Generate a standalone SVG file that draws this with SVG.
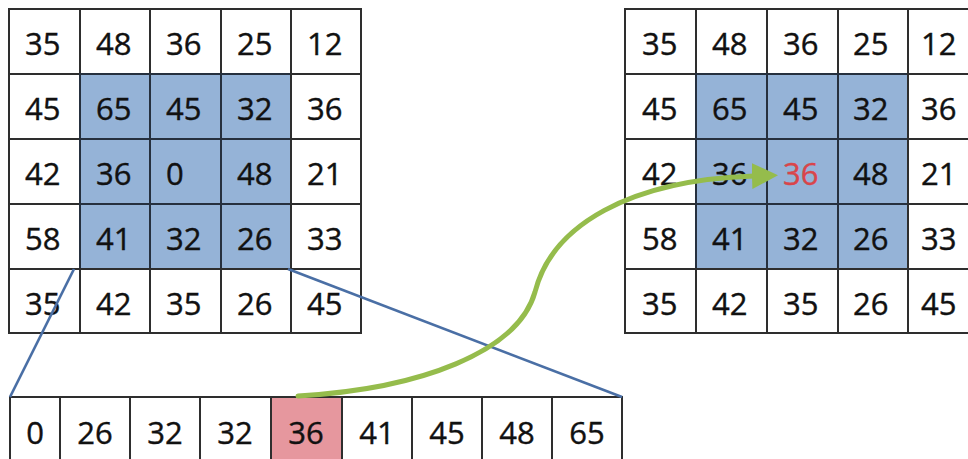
<svg xmlns="http://www.w3.org/2000/svg" width="968" height="459" viewBox="0 0 968 459">
<style>
.c{fill:#ffffff;stroke:#2e2e2e;stroke-width:2}
.b{fill:#95B3D7;stroke:#26303e;stroke-width:2}
.p{fill:#E6979E;stroke:#2e2e2e;stroke-width:2}
.t{font-family:"Open Sans","Liberation Sans",sans-serif;font-size:31px;fill:#111111;stroke:#111111;stroke-width:0.4}
.m{text-anchor:middle}
.r{fill:#D9454A;stroke:#D9454A}
.bl{stroke:#4A6FA5;stroke-width:2.6;fill:none}
.gr{stroke:#95BC4C;stroke-width:5;fill:none;stroke-linecap:round}
</style>
<defs>
<marker id="ah" markerUnits="userSpaceOnUse" markerWidth="28" markerHeight="28" refX="2" refY="13" orient="auto">
<path d="M0,0 L26,13 L0,26 Z" fill="#95BC4C"/>
</marker>
</defs>

<g id="input-grid">
<rect class="c" x="9" y="9" width="71" height="65"/><text class="t" x="25" y="55">35</text>
<rect class="c" x="80" y="9" width="70" height="65"/><text class="t" x="96" y="55">48</text>
<rect class="c" x="150" y="9" width="71" height="65"/><text class="t" x="166" y="55">36</text>
<rect class="c" x="221" y="9" width="70" height="65"/><text class="t" x="237" y="55">25</text>
<rect class="c" x="291" y="9" width="70" height="65"/><text class="t" x="307" y="55">12</text>

<rect class="c" x="9" y="74" width="71" height="65"/><text class="t" x="25" y="120">45</text>
<rect class="b" x="80" y="74" width="70" height="65"/><text class="t" x="96" y="120">65</text>
<rect class="b" x="150" y="74" width="71" height="65"/><text class="t" x="166" y="120">45</text>
<rect class="b" x="221" y="74" width="70" height="65"/><text class="t" x="237" y="120">32</text>
<rect class="c" x="291" y="74" width="70" height="65"/><text class="t" x="307" y="120">36</text>

<rect class="c" x="9" y="139" width="71" height="65"/><text class="t" x="25" y="185">42</text>
<rect class="b" x="80" y="139" width="70" height="65"/><text class="t" x="96" y="185">36</text>
<rect class="b" x="150" y="139" width="71" height="65"/><text class="t" x="166" y="185">0</text>
<rect class="b" x="221" y="139" width="70" height="65"/><text class="t" x="237" y="185">48</text>
<rect class="c" x="291" y="139" width="70" height="65"/><text class="t" x="307" y="185">21</text>

<rect class="c" x="9" y="204" width="71" height="65"/><text class="t" x="25" y="250">58</text>
<rect class="b" x="80" y="204" width="70" height="65"/><text class="t" x="96" y="250">41</text>
<rect class="b" x="150" y="204" width="71" height="65"/><text class="t" x="166" y="250">32</text>
<rect class="b" x="221" y="204" width="70" height="65"/><text class="t" x="237" y="250">26</text>
<rect class="c" x="291" y="204" width="70" height="65"/><text class="t" x="307" y="250">33</text>

<rect class="c" x="9" y="269" width="71" height="64"/><text class="t" x="25" y="315">35</text>
<rect class="c" x="80" y="269" width="70" height="64"/><text class="t" x="96" y="315">42</text>
<rect class="c" x="150" y="269" width="71" height="64"/><text class="t" x="166" y="315">35</text>
<rect class="c" x="221" y="269" width="70" height="64"/><text class="t" x="237" y="315">26</text>
<rect class="c" x="291" y="269" width="70" height="64"/><text class="t" x="307" y="315">45</text>
</g>

<g id="output-grid">
<rect class="c" x="625" y="9" width="71" height="65"/><text class="t" x="642" y="55">35</text>
<rect class="c" x="696" y="9" width="71" height="65"/><text class="t" x="712" y="55">48</text>
<rect class="c" x="767" y="9" width="71" height="65"/><text class="t" x="783" y="55">36</text>
<rect class="c" x="838" y="9" width="70" height="65"/><text class="t" x="853" y="55">25</text>
<rect class="c" x="908" y="9" width="71" height="65"/><text class="t" x="921" y="55">12</text>

<rect class="c" x="625" y="74" width="71" height="65"/><text class="t" x="642" y="120">45</text>
<rect class="b" x="696" y="74" width="71" height="65"/><text class="t" x="712" y="120">65</text>
<rect class="b" x="767" y="74" width="71" height="65"/><text class="t" x="783" y="120">45</text>
<rect class="b" x="838" y="74" width="70" height="65"/><text class="t" x="853" y="120">32</text>
<rect class="c" x="908" y="74" width="71" height="65"/><text class="t" x="921" y="120">36</text>

<rect class="c" x="625" y="139" width="71" height="65"/><text class="t" x="642" y="185">42</text>
<rect class="b" x="696" y="139" width="71" height="65"/><text class="t" x="712" y="185">36</text>
<rect class="b" x="767" y="139" width="71" height="65"/><text class="t r" x="783" y="185">36</text>
<rect class="b" x="838" y="139" width="70" height="65"/><text class="t" x="853" y="185">48</text>
<rect class="c" x="908" y="139" width="71" height="65"/><text class="t" x="921" y="185">21</text>

<rect class="c" x="625" y="204" width="71" height="65"/><text class="t" x="642" y="250">58</text>
<rect class="b" x="696" y="204" width="71" height="65"/><text class="t" x="712" y="250">41</text>
<rect class="b" x="767" y="204" width="71" height="65"/><text class="t" x="783" y="250">32</text>
<rect class="b" x="838" y="204" width="70" height="65"/><text class="t" x="853" y="250">26</text>
<rect class="c" x="908" y="204" width="71" height="65"/><text class="t" x="921" y="250">33</text>

<rect class="c" x="625" y="269" width="71" height="64"/><text class="t" x="642" y="315">35</text>
<rect class="c" x="696" y="269" width="71" height="64"/><text class="t" x="712" y="315">42</text>
<rect class="c" x="767" y="269" width="71" height="64"/><text class="t" x="783" y="315">35</text>
<rect class="c" x="838" y="269" width="70" height="64"/><text class="t" x="853" y="315">26</text>
<rect class="c" x="908" y="269" width="71" height="64"/><text class="t" x="921" y="315">45</text>
</g>

<g id="sorted-row">
<rect class="c" x="10" y="397" width="50" height="66"/><text class="t m" x="35" y="444">0</text>
<rect class="c" x="60" y="397" width="70" height="66"/><text class="t m" x="95" y="444">26</text>
<rect class="c" x="130" y="397" width="70" height="66"/><text class="t m" x="165" y="444">32</text>
<rect class="c" x="200" y="397" width="71" height="66"/><text class="t m" x="235" y="444">32</text>
<rect class="p" x="271" y="397" width="71" height="66"/><text class="t m" x="306" y="444">36</text>
<rect class="c" x="342" y="397" width="70" height="66"/><text class="t m" x="377" y="444">41</text>
<rect class="c" x="412" y="397" width="70" height="66"/><text class="t m" x="447" y="444">45</text>
<rect class="c" x="482" y="397" width="70" height="66"/><text class="t m" x="517" y="444">48</text>
<rect class="c" x="552" y="397" width="70" height="66"/><text class="t m" x="587" y="444">65</text>
</g>

<g id="connectors">
<path class="bl" d="M74 269 L10 397"/>
<path class="bl" d="M288 269 L622 397"/>
<path class="gr" d="M298 396 C420 389 518 352 535 292 C552 225 630 180 754 176" marker-end="url(#ah)"/>
</g>
</svg>
